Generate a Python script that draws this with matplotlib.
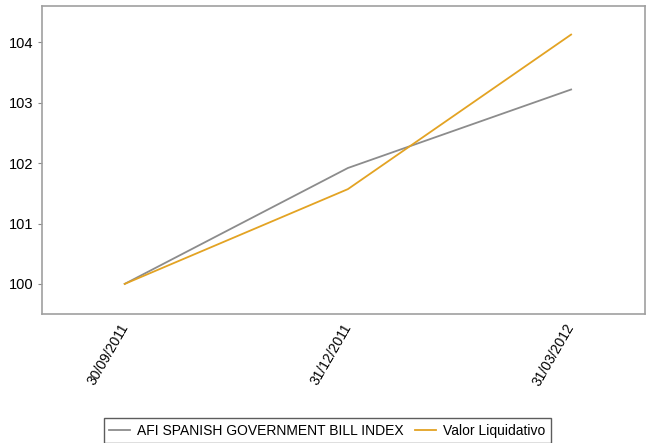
import matplotlib.pyplot as plt
import matplotlib.transforms as mtransforms

plt.rcParams['font.family'] = ['Liberation Sans', 'DejaVu Sans']

fechas = ["30/09/2011", "31/12/2011", "31/03/2012"]
indice = [100.0, 101.92, 103.22]
valor_liquidativo = [100.0, 101.57, 104.13]

fig = plt.figure(figsize=(6.48, 4.43), dpi=100)
ax = fig.add_axes([0.065, 0.291, 0.93, 0.695])

x = range(len(fechas))
ax.plot(x, indice, color="#8c8c8c", lw=1.3, label="AFI SPANISH GOVERNMENT BILL INDEX")
ax.plot(x, valor_liquidativo, color="#e3a323", lw=1.3, label="Valor Liquidativo")

ax.set_xlim(-0.37, 2.33)
ax.set_ylim(99.5, 104.6)
ax.set_yticks([100, 101, 102, 103, 104])
ax.set_xticks(list(x))
ax.set_xticklabels(fechas, rotation=60, ha="right", rotation_mode="anchor", fontsize=10)
ax.tick_params(axis="y", labelsize=10.5, length=3, color="#888888")
ax.tick_params(axis="x", length=0, pad=5)
# nudge the rotated date labels a little to the left
offset = mtransforms.ScaledTranslation(-6 / 100, 0, fig.dpi_scale_trans)
for lbl in ax.get_xticklabels():
    lbl.set_transform(lbl.get_transform() + offset)

for s in ax.spines.values():
    s.set_color("#a0a0a0")
    s.set_linewidth(1.2)

leg = fig.legend(loc="upper center", bbox_to_anchor=(0.505, 0.072), ncol=2,
                 fontsize=10, frameon=True, fancybox=False, handlelength=1.5,
                 handletextpad=0.5, columnspacing=0.8, borderpad=0.4)
leg.get_frame().set_edgecolor("#333333")
leg.get_frame().set_linewidth(1.0)

fig.savefig("out.png", dpi=100)
